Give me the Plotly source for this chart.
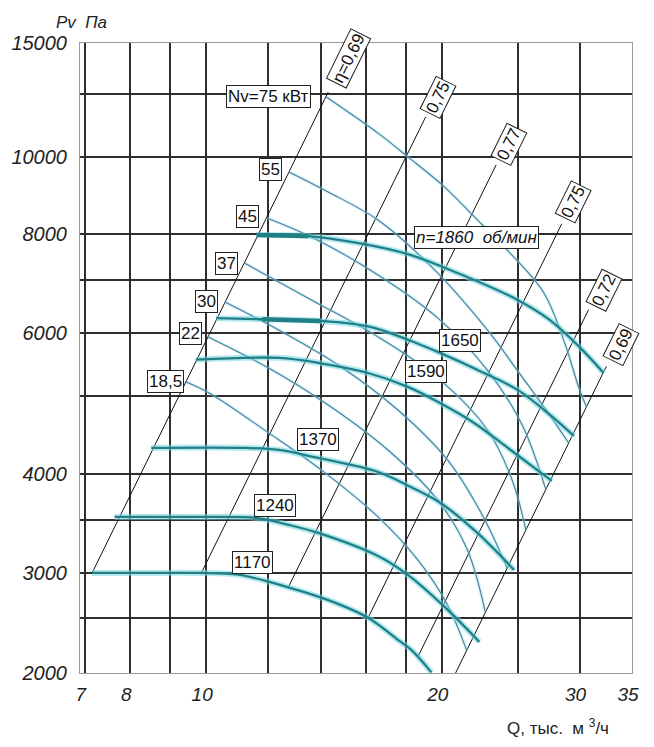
import numpy as np
import plotly.graph_objects as go

# ---------------- axes ----------------
X_RANGE = [6.9, 35.0]
Y_RANGE = [2246, 13900]
X_TICKS = [7, 8, 10, 20, 30, 35]
X_TICK_TEXT = ["7", "8", "10", "20", "30", "35"]
X_MINOR = [9, 12, 14, 16, 18, 25]
Y_TICKS = [2246, 3000, 4000, 6000, 8000, 10000, 13900]
Y_TICK_TEXT = ["2000", "3000", "4000", "6000", "8000", "10000", "15000"]
Y_MINOR = [2634, 3500, 5000, 7000, 12000]

# ---------------- speed curves (n, rpm) ----------------
q_1860 = [11.6, 13.5, 15.6, 18.1, 20.95, 25.0, 27.5, 30.0, 32.2]
p_1860 = [7975, 7950, 7795, 7545, 7145, 6610, 6235, 5765, 5350]
q_1650 = [10.3, 11.8, 14.0, 16.25, 18.1, 19.9, 22.2, 25.0, 27.5, 29.5]
p_1650 = [6270, 6250, 6220, 6110, 5890, 5670, 5400, 5095, 4740, 4460]
q_1590 = [9.7, 12.4, 13.9, 16.1, 18.1, 19.9, 22.0, 24.2, 26.5, 27.65]
p_1590 = [5560, 5590, 5510, 5350, 5140, 4905, 4630, 4320, 4040, 3915]
q_1370 = [8.51, 11.24, 12.38, 13.91, 16.58, 18.26, 19.93, 22.21, 24.74]
p_1370 = [4307, 4307, 4282, 4184, 4018, 3847, 3673, 3368, 3026]
q_1240 = [7.64, 9.8, 11.57, 12.74, 13.91, 16.58, 18.10, 20.17, 22.34]
p_1240 = [3528, 3528, 3518, 3448, 3368, 3150, 2983, 2719, 2457]
q_1170 = [7.15, 8.5, 9.8, 11.0, 12.7, 14.3, 16.1, 17.6, 18.3, 19.4]
p_1170 = [3000, 3000, 3000, 2985, 2880, 2775, 2635, 2470, 2400, 2250]

# emphasised working segments
q_1860_bold = [11.6, 13.5]
p_1860_bold = [7975, 7950]
q_1650_bold = [11.8, 14.0]
p_1650_bold = [6250, 6220]

# ---------------- power curves (Nv, kW) ----------------
q_75 = [14.24, 16.58, 18.10, 20.17, 22.21, 24.45, 27.01, 28.63, 30.00, 30.62]
p_75 = [11890, 10710, 10000, 9160, 8330, 7570, 6745, 5885, 5095, 4850]
q_55 = [12.76, 14.32, 16.58, 19.47, 22.87, 24.96, 27.01, 29.05]
p_55 = [9570, 9030, 8330, 7250, 6060, 5395, 4850, 4370]
q_45 = [11.95, 13.63, 16.58, 19.76, 22.87, 25.33, 27.17]
p_45 = [8380, 7930, 7105, 6275, 5395, 4605, 3815]
q_37 = [11.19, 13.63, 16.58, 19.76, 22.87, 24.60, 25.62]
p_37 = [7355, 6610, 5940, 5275, 4540, 3925, 3395]
q_30 = [10.57, 12.38, 14.75, 17.58, 20.34, 22.53, 24.24]
p_30 = [6570, 6060, 5476, 4807, 4160, 3548, 3044]
q_22 = [10.06, 12.02, 14.32, 17.07, 19.76, 21.57, 22.73]
p_22 = [5938, 5427, 4877, 4282, 3705, 3206, 2680]
q_18_5 = [9.43, 10.09, 12.02, 14.03, 16.58, 18.64, 20.34, 21.51]
p_18_5 = [5214, 5050, 4499, 4042, 3528, 3115, 2735, 2401]

# ---------------- efficiency rays ----------------
eta_text = ["η=0,69", "0,75", "0,77", "0,75", "0,72", "0,69"]
ray_q = [[7.15, 14.32], [9.86, 19.07], [12.74, 23.47], [16.10, 28.47], [18.64, 30.80], [20.83, 32.46]]
ray_p = [[3000, 12060], [3000, 11220], [2881, 9770], [2634, 8240], [2353, 6425], [2246, 5455]]
eta_lab_q = [15.19, 19.76, 24.38, 29.48, 32.19, 33.92]
eta_lab_p = [13308, 11889, 10350, 8775, 6802, 5802]

# ---------------- labels ----------------
power_text = ["Nv=75 кВт", "55", "45", "37", "30", "22", "18,5"]
power_lab_q = [12.02, 12.09, 11.30, 10.63, 10.0, 9.54, 8.87]
power_lab_p = [11922, 9627, 8403, 7355, 6589, 5990, 5214]
speed_text = ["n=1860  об/мин", "1650", "1590", "1370", "1240", "1170"]
speed_lab_q = [22.14, 21.13, 19.07, 13.91, 12.23, 11.47]
speed_lab_p = [7928, 5871, 5366, 4409, 3651, 3096]

TEAL = "rgb(32,128,134)"
HALO = "rgba(120,215,228,0.55)"
THIN = "rgb(70,128,158)"
FONT = "Liberation Sans Narrow, Arial Narrow, Liberation Sans, Arial"
GRID = "#2e2e2e"

fig = go.Figure()

# rays
for qs, ps in zip(ray_q, ray_p):
    fig.add_trace(go.Scatter(x=qs, y=ps, mode="lines",
                             line=dict(color="#111", width=1), hoverinfo="skip"))

# power curves
for qs, ps in [(q_75, p_75), (q_55, p_55), (q_45, p_45), (q_37, p_37),
               (q_30, p_30), (q_22, p_22), (q_18_5, p_18_5)]:
    fig.add_trace(go.Scatter(x=qs, y=ps, mode="lines",
                             line=dict(color="rgba(150,220,235,0.4)", width=3.2, shape="spline"),
                             hoverinfo="skip"))
    fig.add_trace(go.Scatter(x=qs, y=ps, mode="lines",
                             line=dict(color=THIN, width=1.1, shape="spline"),
                             hoverinfo="skip"))

# speed curves
speeds = [(q_1860, p_1860), (q_1650, p_1650), (q_1590, p_1590),
          (q_1370, p_1370), (q_1240, p_1240), (q_1170, p_1170)]
for qs, ps in speeds:
    fig.add_trace(go.Scatter(x=qs, y=ps, mode="lines",
                             line=dict(color=HALO, width=6, shape="spline"), hoverinfo="skip"))
for qs, ps in speeds:
    fig.add_trace(go.Scatter(x=qs, y=ps, mode="lines",
                             line=dict(color=TEAL, width=2.3, shape="spline"), hoverinfo="skip"))
for qs, ps in [(q_1860_bold, p_1860_bold), (q_1650_bold, p_1650_bold)]:
    fig.add_trace(go.Scatter(x=qs, y=ps, mode="lines",
                             line=dict(color=TEAL, width=4.5), hoverinfo="skip"))

annotations = []
box = dict(bgcolor="white", bordercolor="#222", borderwidth=1, borderpad=1,
           showarrow=False, xref="x", yref="y")
for t, q, p in zip(eta_text, eta_lab_q, eta_lab_p):
    annotations.append(dict(text=t, x=np.log10(q), y=np.log10(p), textangle=-63.7,
                            font=dict(family=FONT, size=17, color="#111"), **box))
for t, q, p in zip(power_text, power_lab_q, power_lab_p):
    annotations.append(dict(text=t, x=np.log10(q), y=np.log10(p),
                            font=dict(family=FONT, size=17, color="#111"), **box))
for i, (t, q, p) in enumerate(zip(speed_text, speed_lab_q, speed_lab_p)):
    annotations.append(dict(text=t, x=np.log10(q), y=np.log10(p),
                            font=dict(family=FONT, size=17, color="#111",
                                      style="italic" if i == 0 else "normal"), **box))

annotations.append(dict(text="Pv  Па", x=0.002, y=1.033, xref="paper", yref="paper",
                        xanchor="center", yanchor="middle", showarrow=False,
                        font=dict(family="Liberation Sans", size=17, style="italic", color="#222")))
annotations.append(dict(text="Q, тыс.  м <sup>3</sup>/ч", x=0.866, y=-0.0857,
                        xref="paper", yref="paper", xanchor="center", yanchor="middle",
                        showarrow=False, font=dict(family=FONT, size=17, color="#222")))

# the page body adds an 8 px offset, so margins are reduced by 8 px
fig.update_layout(
    width=646, height=731,
    margin=dict(l=72, r=22, t=35, b=66, autoexpand=False),
    paper_bgcolor="white", plot_bgcolor="white",
    showlegend=False,
    annotations=annotations,
)
fig.update_xaxes(type="log", range=[np.log10(X_RANGE[0]), np.log10(X_RANGE[1])],
                 automargin=False,
                 tickmode="array", tickvals=X_TICKS, ticktext=X_TICK_TEXT,
                 showgrid=True, gridcolor=GRID, gridwidth=1.6,
                 minor=dict(tickmode="array", tickvals=X_MINOR, showgrid=True,
                            gridcolor=GRID, gridwidth=1.6, ticks=""),
                 showline=True, linecolor="#9a9a9a", linewidth=1, mirror=True,
                 ticks="", ticklabelstandoff=4, ticklabelshift=-4,
                 tickfont=dict(family="Liberation Sans", size=19, style="italic", color="#222"),
                 zeroline=False)
fig.update_yaxes(type="log", range=[np.log10(Y_RANGE[0]), np.log10(Y_RANGE[1])],
                 automargin=False,
                 tickmode="array", tickvals=Y_TICKS, ticktext=Y_TICK_TEXT,
                 showgrid=True, gridcolor=GRID, gridwidth=1.6,
                 minor=dict(tickmode="array", tickvals=Y_MINOR, showgrid=True,
                            gridcolor=GRID, gridwidth=1.6, ticks=""),
                 showline=True, linecolor="#9a9a9a", linewidth=1, mirror=True,
                 ticks="", ticklabelstandoff=8,
                 tickfont=dict(family="Liberation Sans", size=20, style="italic", color="#222"),
                 zeroline=False)

fig.write_html("out.html")
